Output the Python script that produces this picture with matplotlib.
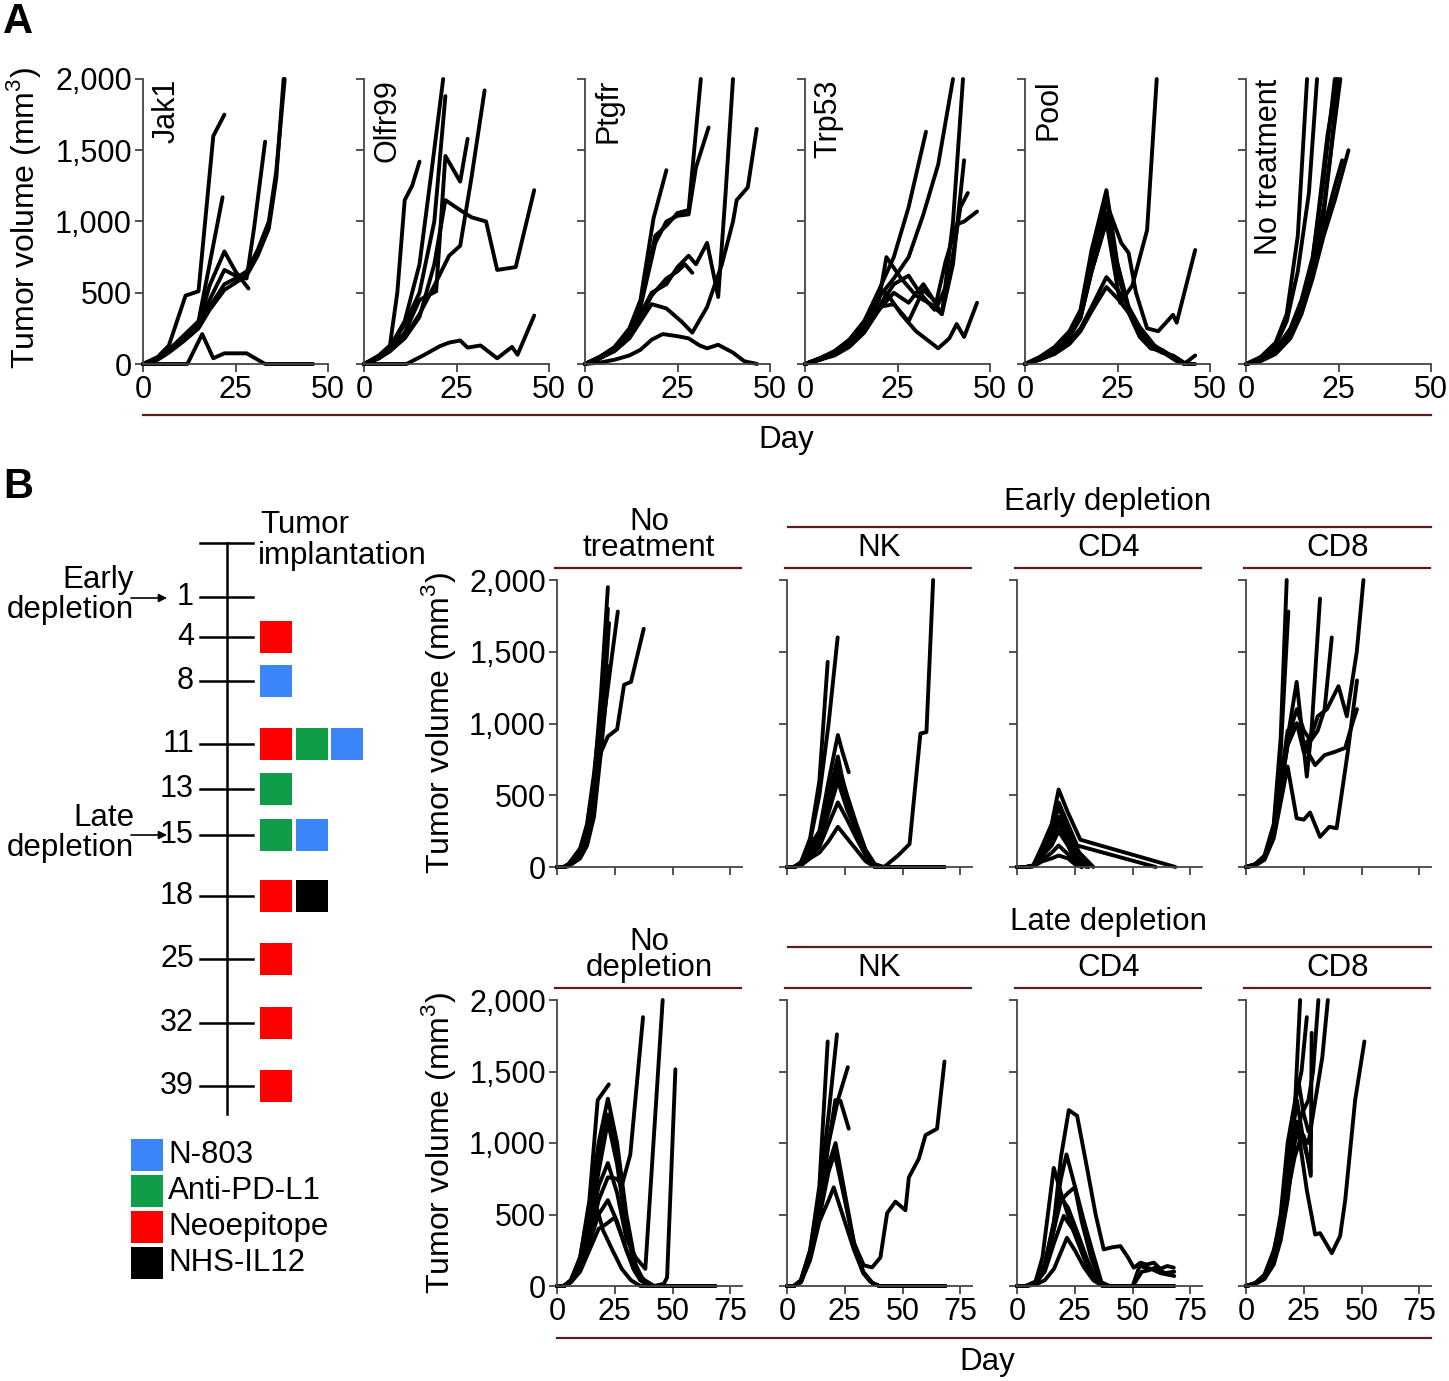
import matplotlib
matplotlib.use("Agg")
import matplotlib.pyplot as plt
from matplotlib.patches import Rectangle
from matplotlib.ticker import FuncFormatter

plt.rcParams['font.family'] = ['Liberation Sans', 'DejaVu Sans']
plt.rcParams['mathtext.fontset'] = 'custom'
plt.rcParams['mathtext.rm'] = 'Liberation Sans'

# ---------------- data: panel A (day, tumor volume) ----------------
jak1 = [
    ([0, 4, 7, 11.5, 15, 19, 22], [0, 50, 130, 480, 510, 1600, 1750]),
    ([0, 4, 7, 11, 15, 18, 21.5], [0, 40, 100, 200, 300, 700, 1170]),
    ([0, 4, 7, 11, 15, 18, 22, 25, 28.5], [0, 40, 90, 180, 280, 550, 790, 650, 530]),
    ([0, 4, 7, 11, 15, 18, 22, 25, 28, 30, 33], [0, 40, 100, 190, 280, 450, 660, 620, 600, 950, 1560]),
    ([0, 4, 7, 11, 15, 18, 22, 25, 28, 31, 34, 36, 38], [0, 30, 80, 160, 250, 380, 520, 570, 620, 760, 950, 1300, 2000]),
    ([0, 4, 7, 11, 15, 18, 22, 25, 28, 31, 34, 36, 38.3], [0, 40, 90, 170, 270, 400, 560, 600, 650, 800, 1000, 1350, 2000]),
    ([0, 12, 16, 19, 22, 28, 33, 40, 46], [0, 0, 210, 40, 75, 75, 0, 0, 0]),
]
olfr99 = [
    ([0, 4, 7, 9, 11, 13, 15], [0, 60, 130, 500, 1150, 1250, 1420]),
    ([0, 4, 7, 11, 15, 18, 21.4], [0, 50, 120, 300, 700, 1300, 2000]),
    ([0, 4, 7, 11, 15, 19, 22], [0, 50, 110, 280, 500, 1000, 1880]),
    ([0, 4, 7, 11, 15, 19.5, 22, 26, 28], [0, 40, 100, 220, 450, 510, 1460, 1280, 1580]),
    ([0, 4, 7, 11, 15, 19, 23, 26, 29, 32.6], [0, 40, 90, 190, 350, 550, 760, 830, 1300, 1920]),
    ([0, 4, 7, 11, 15, 19, 22, 26, 29, 33, 36, 41, 46], [0, 40, 90, 180, 330, 700, 1150, 1080, 1030, 1000, 660, 680, 1220]),
    ([0, 6, 11.5, 16, 20.5, 23, 26, 28, 31.5, 36, 40, 41.5, 46], [0, 0, 0, 60, 125, 150, 165, 115, 130, 40, 120, 65, 340]),
]
ptgfr = [
    ([0, 4, 8, 12, 15, 18.5, 22], [0, 50, 120, 250, 450, 1020, 1360]),
    ([0, 4, 8, 12, 15, 19, 22, 25, 28, 31.3], [0, 50, 110, 240, 420, 900, 970, 1060, 1080, 2000]),
    ([0, 4, 8, 12, 15, 19, 22, 25, 28, 30, 33.4], [0, 50, 110, 230, 400, 850, 1000, 1040, 1050, 1380, 1660]),
    ([0, 4, 8, 12, 15, 18, 22, 25, 28, 30, 33, 36, 38, 40], [0, 40, 100, 200, 350, 500, 560, 680, 760, 700, 850, 470, 1200, 2000]),
    ([0, 4, 8, 12, 15, 18, 22, 26, 29, 33, 37, 40, 41, 44, 46.4], [0, 40, 90, 180, 300, 420, 390, 300, 220, 400, 700, 1000, 1150, 1240, 1650]),
    ([0, 4, 8, 12, 15, 18, 21, 25, 28, 31, 33, 36, 40, 43, 46.5], [0, 10, 30, 60, 100, 170, 210, 195, 180, 130, 110, 135, 80, 20, 0]),
    ([0, 4, 8, 12, 15, 18, 22, 25, 27, 29], [0, 40, 100, 200, 330, 480, 600, 650, 700, 640]),
]
trp53 = [
    ([0, 4, 8, 12, 16, 20, 24, 28, 32.7], [0, 40, 90, 170, 300, 520, 750, 1100, 1630]),
    ([0, 4, 8, 12, 16, 20, 24, 28, 32, 36, 40], [0, 40, 90, 170, 300, 470, 600, 750, 1050, 1400, 2000]),
    ([0, 4, 8, 12, 16, 20, 22, 26, 30, 34, 37, 40, 42.7], [0, 40, 80, 160, 280, 450, 750, 600, 480, 420, 350, 1000, 2000]),
    ([0, 4, 8, 12, 16, 20, 24, 28, 32, 34, 37, 40, 43], [0, 30, 70, 140, 250, 380, 500, 430, 560, 480, 350, 700, 1430]),
    ([0, 4, 8, 12, 16, 20, 24, 28, 31, 35, 38, 41, 43, 46.5], [0, 30, 70, 140, 250, 400, 560, 620, 500, 380, 720, 980, 1000, 1070]),
    ([0, 4, 8, 12, 16, 20, 22, 26, 30, 36, 39, 41, 43, 46.5], [0, 30, 60, 120, 220, 380, 500, 350, 230, 110, 180, 280, 190, 430]),
    ([0, 4, 8, 12, 16, 20, 24, 28, 32, 36, 39, 42, 44], [0, 30, 70, 140, 250, 400, 420, 300, 520, 420, 600, 1100, 1200]),
]
pool = [
    ([0, 4, 8, 12, 15, 18, 22, 25, 28, 31, 34, 37, 40, 43, 46], [0, 50, 120, 230, 380, 800, 1220, 700, 380, 200, 110, 100, 50, 0, 0]),
    ([0, 4, 8, 12, 15, 18, 22, 26, 28, 30, 33, 36, 40, 41, 46], [0, 40, 100, 200, 330, 700, 1130, 850, 780, 500, 250, 230, 345, 290, 800]),
    ([0, 4, 8, 12, 15, 18, 22, 25.7, 29, 33, 35.6], [0, 40, 100, 200, 330, 650, 1000, 430, 550, 940, 2000]),
    ([0, 4, 8, 12, 15, 18, 22, 25, 28, 31, 34, 37, 40, 43, 45], [0, 40, 90, 190, 320, 650, 1000, 700, 400, 230, 120, 80, 60, 10, 0]),
    ([0, 4, 8, 12, 15, 18, 22, 25, 28, 31, 35, 38, 41, 43, 46], [0, 30, 80, 160, 250, 400, 610, 520, 400, 260, 130, 80, 40, 0, 60]),
    ([0, 4, 8, 12, 15, 18, 22, 25, 28, 31, 35, 38, 41, 44], [0, 30, 70, 140, 230, 370, 540, 460, 360, 230, 120, 70, 20, 0]),
    ([0, 4, 8, 12, 15, 18, 22, 25, 28, 31, 34, 37, 40, 43], [0, 45, 110, 220, 360, 750, 1060, 650, 360, 190, 110, 90, 40, 0]),
]
no_treat_a = [
    ([0, 4, 8, 11, 14, 16.5], [0, 50, 150, 350, 900, 2000]),
    ([0, 4, 8, 11, 14, 17, 19.2], [0, 40, 130, 300, 650, 1200, 2000]),
    ([0, 4, 8, 12, 15, 18, 21, 24], [0, 30, 100, 250, 450, 750, 1300, 2000]),
    ([0, 4, 8, 12, 15, 18, 21, 23, 25.5], [0, 30, 90, 230, 420, 700, 1100, 1500, 2000]),
    ([0, 4, 8, 12, 15, 18, 21, 24, 27.7], [0, 20, 70, 180, 350, 600, 900, 1150, 1500]),
    ([0, 4, 8, 12, 15, 18, 21, 24, 26], [0, 30, 80, 200, 380, 650, 950, 1250, 1430]),
    ([0, 4, 8, 12, 15, 18, 22, 24.5], [0, 30, 100, 240, 430, 720, 1600, 2000]),
    ([0, 4, 8, 12, 15, 18, 21, 23, 24.8], [0, 30, 90, 220, 400, 680, 1050, 1500, 2000]),
]
panel_a_names = ["Jak1", "Olfr99", "Ptgfr", "Trp53", "Pool", "No treatment"]
panel_a_data = [jak1, olfr99, ptgfr, trp53, pool, no_treat_a]

# ---------------- data: panel B, early depletion row ----------------
early_none = [
    ([0, 3, 5, 10, 13, 16, 19, 22], [0, 0, 20, 120, 280, 600, 1200, 1950]),
    ([0, 3, 5, 10, 13, 16, 19, 22, 24, 26.3], [0, 0, 15, 100, 250, 550, 900, 1250, 1500, 1780]),
    ([0, 3, 5, 10, 13, 16, 19, 22, 26, 29, 32, 37.5], [0, 0, 20, 110, 260, 530, 800, 910, 960, 1270, 1290, 1660]),
    ([0, 3, 5, 10, 13, 16, 19, 22], [0, 0, 10, 80, 200, 450, 900, 1800]),
    ([0, 3, 5, 10, 13, 16, 19, 22], [0, 0, 15, 90, 230, 500, 1000, 1400]),
    ([0, 3, 5, 10, 13, 16, 19, 22.5], [0, 0, 10, 70, 180, 400, 850, 1700]),
    ([0, 3, 5, 10, 13, 16, 19, 21], [0, 0, 20, 130, 300, 650, 1100, 1500]),
    ([0, 3, 5, 10, 13, 16, 19, 22], [0, 0, 5, 60, 150, 350, 800, 1300]),
]
early_nk = [
    ([0, 3, 6, 10, 14, 17.6], [0, 0, 30, 200, 600, 1430]),
    ([0, 3, 6, 10, 14, 18, 21.9], [0, 0, 30, 180, 500, 1000, 1600]),
    ([0, 3, 6, 10, 14, 18, 22, 24, 26.7], [0, 0, 30, 150, 250, 600, 920, 800, 660]),
    ([0, 3, 6, 10, 14, 18, 22, 26, 30, 34, 38, 45, 55, 68], [0, 0, 30, 120, 220, 500, 770, 450, 250, 100, 0, 0, 0, 0]),
    ([0, 3, 6, 10, 14, 18, 22, 26, 30, 34, 38, 45, 55, 68], [0, 0, 20, 100, 200, 420, 650, 430, 260, 110, 0, 0, 0, 0]),
    ([0, 3, 6, 10, 14, 18, 22, 26, 30, 34, 38, 45, 55, 68], [0, 0, 20, 90, 180, 380, 600, 400, 250, 100, 0, 0, 0, 0]),
    ([0, 3, 6, 10, 14, 18, 22, 26, 30, 34, 38, 45, 55, 68], [0, 0, 15, 70, 140, 300, 450, 330, 200, 80, 0, 0, 0, 0]),
    ([0, 3, 6, 10, 14, 18, 22, 26, 30, 34, 38, 45, 55, 68], [0, 0, 10, 60, 100, 180, 280, 200, 120, 40, 0, 0, 0, 0]),
    ([0, 3, 6, 10, 14, 18, 22, 26, 30, 34, 38, 42, 48, 53, 57.7, 60.3, 63.2],
     [0, 0, 20, 100, 200, 450, 720, 500, 300, 120, 20, 0, 80, 160, 930, 940, 2000]),
]
early_cd4 = [
    ([0, 4, 7, 11, 15, 18, 22, 27.4, 68.5], [0, 0, 10, 150, 300, 540, 380, 190, 0]),
    ([0, 4, 7, 11, 15, 18, 22, 26, 60], [0, 0, 10, 130, 250, 450, 300, 150, 0]),
    ([0, 4, 7, 11, 15, 18, 22, 26, 31], [0, 0, 10, 120, 220, 350, 200, 80, 0]),
    ([0, 4, 7, 11, 15, 18, 22, 26, 30], [0, 0, 10, 100, 180, 300, 170, 60, 0]),
    ([0, 4, 7, 11, 15, 18, 22, 25, 28], [0, 0, 5, 80, 150, 250, 150, 50, 0]),
    ([0, 4, 7, 11, 15, 18, 22, 25, 28], [0, 0, 5, 50, 100, 150, 90, 30, 0]),
    ([0, 4, 7, 11, 15, 18, 22, 25, 28], [0, 0, 5, 40, 60, 80, 60, 20, 0]),
    ([0, 4, 7, 11, 15, 18, 22, 27, 33], [0, 0, 10, 110, 250, 420, 250, 100, 0]),
]
early_cd8 = [
    ([0, 4, 8, 12, 15, 17.6], [0, 20, 80, 300, 900, 2000]),
    ([0, 4, 8, 12, 15, 18.3], [0, 20, 70, 280, 800, 1780]),
    ([0, 4, 8, 12, 15, 18, 21.9, 24, 26.3, 28.4, 32], [0, 15, 60, 250, 600, 900, 1290, 980, 630, 970, 1870]),
    ([0, 4, 8, 12, 15, 18, 22, 25, 28, 31, 34, 37.1], [0, 15, 60, 230, 550, 900, 1100, 950, 880, 950, 1100, 1600]),
    ([0, 4, 8, 12, 15, 18, 22, 25, 28, 31, 35, 40, 43.6, 47.9, 50.8],
     [0, 15, 60, 230, 550, 850, 1000, 850, 900, 1050, 1100, 1260, 1050, 1500, 2000]),
    ([0, 4, 8, 12, 15, 18, 21.9, 25, 27.7, 32, 36, 39.2, 44, 48], [0, 10, 50, 200, 450, 700, 340, 330, 380, 210, 280, 270, 800, 1300]),
    ([0, 4, 8, 12, 15, 18, 22, 25, 29.9, 34, 38, 42.9, 46, 48], [0, 15, 60, 240, 550, 850, 1000, 850, 710, 780, 800, 830, 1000, 1100]),
    ([0, 4, 8, 12, 15, 18, 22, 25, 28], [0, 15, 60, 240, 600, 950, 1000, 800, 900]),
]

# ---------------- data: panel B, late depletion row ----------------
late_none = [
    ([0, 3, 6, 10, 14, 17.6, 22.4], [0, 0, 40, 200, 600, 1300, 1410]),
    ([0, 3, 6, 10, 14, 18, 22, 26, 30, 34, 37, 40], [0, 0, 40, 200, 550, 1000, 1310, 1000, 500, 150, 50, 0]),
    ([0, 3, 6, 10, 14, 18, 22, 26, 30, 34, 37, 40, 50, 68.5], [0, 0, 40, 180, 500, 900, 1200, 950, 450, 120, 30, 0, 0, 0]),
    ([0, 3, 6, 10, 14, 18, 22, 26, 30, 34, 38, 42], [0, 0, 30, 150, 420, 800, 1150, 850, 400, 100, 20, 0]),
    ([0, 3, 6, 10, 14, 18, 22, 26, 30, 34, 38.2, 45.7], [0, 0, 30, 150, 380, 700, 860, 650, 330, 200, 120, 2000]),
    ([0, 3, 6, 10, 14, 18, 22, 26, 28, 31.7, 37.2], [0, 0, 30, 130, 330, 600, 760, 750, 700, 920, 1880]),
    ([0, 3, 6, 10, 14, 18, 22, 26, 30, 34, 38, 42, 46.2, 47.6, 51.2], [0, 0, 30, 120, 300, 500, 600, 450, 250, 100, 40, 0, 15, 60, 1515]),
    ([0, 3, 6, 10, 14, 18, 21, 25, 29, 33, 36, 40, 50, 68.5], [0, 0, 25, 100, 250, 400, 430, 480, 300, 120, 40, 0, 0, 0]),
    ([0, 3, 6, 10, 14, 17, 19.9, 24, 28, 32, 36, 40, 50, 68.5], [0, 0, 30, 150, 380, 560, 390, 250, 120, 40, 0, 0, 0, 0]),
]
late_nk = [
    ([0, 3, 6, 10, 14, 17.6], [0, 0, 40, 250, 700, 1710]),
    ([0, 3, 6, 10, 14, 18, 21.6], [0, 0, 40, 250, 650, 1200, 1760]),
    ([0, 3, 6, 10, 14, 18, 22, 26.3], [0, 0, 30, 220, 550, 1000, 1300, 1530]),
    ([0, 3, 6, 10, 14, 18, 20.9, 23.1, 26.7], [0, 0, 35, 230, 580, 1000, 1300, 1295, 1100]),
    ([0, 3, 6, 10, 14, 18, 21, 25, 29, 33, 37, 40, 50, 60, 68.5], [0, 0, 30, 200, 520, 850, 1000, 650, 300, 100, 20, 0, 0, 0, 0]),
    ([0, 3, 6, 10, 14, 18, 20.2, 25, 29, 33, 36, 39.7, 50, 60, 68.5], [0, 0, 25, 180, 450, 600, 690, 450, 250, 90, 30, 0, 0, 0, 0]),
    ([0, 3, 6, 10, 14, 18, 21, 25, 29, 33.2, 36.8, 40.4, 43.3, 46.9, 51.2, 52.7, 57, 59.9, 64.9, 68.1],
     [0, 0, 30, 200, 500, 850, 900, 600, 300, 145, 130, 200, 510, 590, 530, 760, 890, 1055, 1100, 1570]),
    ([0, 3, 6, 10, 14, 18, 21, 25, 29, 33, 37, 40, 50, 68.5], [0, 0, 30, 200, 480, 800, 950, 620, 280, 90, 20, 0, 0, 0]),
]
late_cd4 = [
    ([0, 4, 8, 12, 16, 19, 22.4, 26, 30, 34, 37.5, 41, 44.7, 48, 50.5, 53.4, 56, 59.2, 62, 65, 67.8],
     [0, 0, 30, 150, 450, 900, 1230, 1190, 850, 500, 256, 270, 279, 200, 128, 163, 150, 163, 120, 140, 128]),
    ([0, 4, 8, 12, 16, 19, 21.4, 25, 29, 33, 37, 40, 45, 50, 54, 57, 60, 64, 68],
     [0, 0, 30, 150, 450, 750, 920, 700, 450, 220, 0, 0, 0, 0, 100, 110, 130, 90, 100]),
    ([0, 4, 8, 11, 15.9, 19, 22, 26, 30, 34, 37, 45, 55, 68], [0, 0, 30, 200, 826, 650, 500, 320, 150, 40, 0, 0, 0, 0]),
    ([0, 4, 8, 12, 16, 19, 22, 25, 28, 32, 36, 40, 45, 50, 53, 58, 62, 65, 68],
     [0, 0, 25, 130, 400, 600, 650, 690, 450, 200, 30, 0, 0, 0, 140, 120, 90, 80, 70]),
    ([0, 4, 8, 12, 16, 18, 22, 26, 30, 34, 37, 50, 68], [0, 0, 20, 110, 400, 640, 550, 380, 200, 50, 0, 0, 0]),
    ([0, 4, 8, 12, 16, 20.2, 24, 28, 32, 36, 40], [0, 0, 20, 100, 300, 490, 400, 250, 100, 20, 0]),
    ([0, 4, 8, 12, 16, 21.6, 25, 29, 33, 37, 40], [0, 0, 10, 40, 120, 337, 250, 130, 40, 0, 0]),
]
late_cd8 = [
    ([0, 4, 8, 12, 15, 18, 21, 23.4], [0, 20, 80, 250, 450, 800, 1200, 2000]),
    ([0, 4, 8, 12, 15, 18, 21, 24, 27, 29, 31.3], [0, 15, 60, 200, 400, 700, 1000, 1200, 1300, 1500, 2000]),
    ([0, 4, 8, 12, 15, 18, 21, 24, 27, 30, 33, 35.4], [0, 15, 50, 170, 350, 650, 900, 1050, 1000, 1300, 1600, 2000]),
    ([0, 4, 8, 12, 15, 18, 22, 24, 26.3], [0, 20, 70, 220, 450, 900, 1350, 1500, 1880]),
    ([0, 4, 8, 12, 15, 18, 22, 25, 28, 28.4], [0, 15, 60, 200, 400, 750, 1100, 1050, 770, 1770]),
    ([0, 4, 8, 12, 15, 18, 22.7, 25, 27], [0, 20, 70, 230, 500, 1000, 1430, 1200, 1080]),
    ([0, 4, 8, 12, 15, 18, 22, 26.3, 29.9, 32, 37.1, 40.7, 42.9, 47.2, 51.2],
     [0, 15, 50, 150, 320, 600, 1150, 670, 360, 370, 230, 350, 600, 1300, 1710]),
    ([0, 4, 8, 12, 15, 18, 22, 25, 28], [0, 15, 60, 200, 430, 800, 1300, 1000, 800]),
]
early_row = [early_none, early_nk, early_cd4, early_cd8]
late_row = [late_none, late_nk, late_cd4, late_cd8]
col_titles_early = ["No\ntreatment", "NK", "CD4", "CD8"]
col_titles_late = ["No\ndepletion", "NK", "CD4", "CD8"]

# ---------------- data: treatment schedule ----------------
schedule_days = [1, 4, 8, 11, 13, 15, 18, 25, 32, 39]
schedule_treat = [[], ["Neoepitope"], ["N-803"], ["Neoepitope", "Anti-PD-L1", "N-803"], ["Anti-PD-L1"],
                  ["Anti-PD-L1", "N-803"], ["Neoepitope", "NHS-IL12"], ["Neoepitope"], ["Neoepitope"], ["Neoepitope"]]
treat_names = ["N-803", "Anti-PD-L1", "Neoepitope", "NHS-IL12"]
treat_colors = {"N-803": "#3a86f8", "Anti-PD-L1": "#0f9d48", "Neoepitope": "#ff0000", "NHS-IL12": "#000000"}

# ---------------- layout ----------------
W, H = 1449, 1381
fig = plt.figure(figsize=(W / 100, H / 100), dpi=100)
FS = 22
TS = 22.5
MAROON = "#5a1e1e"
AXC = "#444444"

# overlay in pixel coordinates for annotations
ov = fig.add_axes([0, 0, 1, 1], zorder=-1)
ov.set_xlim(0, W)
ov.set_ylim(H, 0)
ov.axis("off")


def px_axes(x0, ytop, x1, ybot):
    return fig.add_axes([x0 / W, 1 - ybot / H, (x1 - x0) / W, (ybot - ytop) / H])


def style(ax, xmax, xticks, ylabels, xlabels):
    for s in ["top", "right"]:
        ax.spines[s].set_visible(False)
    for s in ["left", "bottom"]:
        ax.spines[s].set_color(AXC)
        ax.spines[s].set_linewidth(1.3)
    ax.set_xlim(0, xmax)
    ax.set_ylim(0, 2000)
    ax.set_xticks(xticks)
    ax.set_yticks([0, 500, 1000, 1500, 2000])
    ax.yaxis.set_major_formatter(FuncFormatter(lambda v, p: f"{int(v):,}"))
    ax.tick_params(direction="out", length=6, width=1.3, color=AXC, labelsize=FS, pad=2)
    if not ylabels:
        ax.set_yticklabels([])
    if not xlabels:
        ax.set_xticklabels([])
    ax.patch.set_alpha(0)


def draw_curves(ax, curves):
    for days, vols in curves:
        ax.plot(days, vols, color="black", lw=2.8, solid_joinstyle="round",
                solid_capstyle="round", clip_on=False)


# panel A
a_x0 = [143, 364, 585, 805, 1025, 1246]
for i, (name, curves) in enumerate(zip(panel_a_names, panel_a_data)):
    ax = px_axes(a_x0[i], 79, a_x0[i] + 185, 364)
    draw_curves(ax, curves)
    style(ax, 50, [0, 25, 50], i == 0, True)
    ax.text(0.045, 1.0, name, rotation=90, ha="left", va="top", fontsize=FS, transform=ax.transAxes)

ov.text(3, 22, "A", fontsize=30, fontweight="bold", ha="left", va="center")
ov.text(24, 218, "Tumor volume (mm$^3$)", rotation=90, fontsize=23, ha="center", va="center")
ov.plot([143, 1431], [415, 415], color=MAROON, lw=1.6)
ov.text(786, 440, "Day", fontsize=TS, ha="center", va="center")

# panel B plots
b_x0 = [557, 787, 1017, 1246]
rows = [(580, 867, early_row, col_titles_early, "Early depletion", False),
        (1000, 1286, late_row, col_titles_late, "Late depletion", True)]
for ytop, ybot, row, titles, group, xl in rows:
    for j in range(4):
        ax = px_axes(b_x0[j], ytop, b_x0[j] + 185, ybot)
        draw_curves(ax, row[j])
        style(ax, 80, [0, 25, 50, 75], j == 0, xl)
        ov.plot([b_x0[j] - 2, b_x0[j] + 184], [ytop - 12, ytop - 12], color=MAROON, lw=1.6)
        cx = b_x0[j] + 92
        if j == 0:
            ov.text(cx, ytop - 45, titles[j], fontsize=TS, ha="center", va="center", linespacing=0.8)
        else:
            ov.text(cx, ytop - 32, titles[j], fontsize=TS, ha="center", va="center")
    ov.plot([788, 1431], [ytop - 53, ytop - 53], color=MAROON, lw=1.6)
    ov.text(1108, ytop - 78, group, fontsize=TS, ha="center", va="center")
    ov.text(439, (ytop + ybot) / 2, "Tumor volume (mm$^3$)", rotation=90, fontsize=23, ha="center", va="center")

ov.plot([557, 1431], [1338, 1338], color=MAROON, lw=1.6)
ov.text(987, 1362, "Day", fontsize=TS, ha="center", va="center")
ov.text(3, 487, "B", fontsize=30, fontweight="bold", ha="left", va="center")

# schedule timeline
tick_y = [597, 637, 681, 744, 789, 835, 896, 959, 1023, 1086]
ov.plot([227, 227], [543, 1114], color="black", lw=1.8)
ov.plot([200, 253], [543, 543], color="black", lw=1.8)
ov.text(260, 525, "Tumor", fontsize=TS, ha="left", va="center")
ov.text(258, 556, "implantation", fontsize=TS, ha="left", va="center")
sq = 32
for d, y, tr in zip(schedule_days, tick_y, schedule_treat):
    ov.plot([200, 253], [y, y], color="black", lw=1.8)
    ov.text(194, y, str(d), fontsize=FS, ha="right", va="center")
    for k, t in enumerate(tr):
        ov.add_patch(Rectangle((260 + k * 35.5, y - sq / 2), sq, sq, color=treat_colors[t], lw=0))

ov.text(134, 580, "Early", fontsize=TS, ha="right", va="center")
ov.text(134, 610, "depletion", fontsize=TS, ha="right", va="center")
ov.annotate("", xy=(167, 598), xytext=(131, 598),
            arrowprops=dict(arrowstyle="-|>", color="black", lw=1.2, mutation_scale=12, shrinkA=0, shrinkB=0))
ov.text(134, 818, "Late", fontsize=TS, ha="right", va="center")
ov.text(134, 848, "depletion", fontsize=TS, ha="right", va="center")
ov.annotate("", xy=(167, 835), xytext=(131, 835),
            arrowprops=dict(arrowstyle="-|>", color="black", lw=1.2, mutation_scale=12, shrinkA=0, shrinkB=0))

for k, t in enumerate(treat_names):
    y = 1139 + k * 36
    ov.add_patch(Rectangle((131, y), sq, sq, color=treat_colors[t], lw=0))
    ov.text(168, y + sq / 2, t, fontsize=TS, ha="left", va="center")

fig.savefig("out.png", dpi=100)
